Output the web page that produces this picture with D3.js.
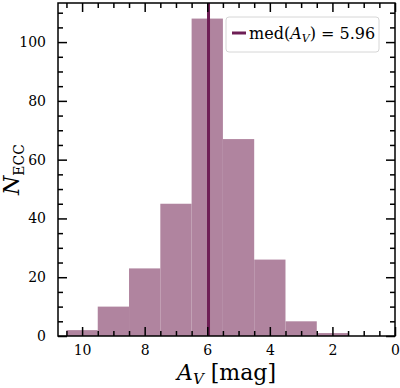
<!DOCTYPE html>
<html>
<head>
  <meta charset="utf-8">
  <script src="https://d3js.org/d3.v7.min.js"></script>
  <style>
    body { margin: 0; background: #fff; }
    text { font-family: "DejaVu Serif", serif; fill: #000; }
  </style>
</head>
<body>
<script>
  // histogram bins (A_V edges, mag) and counts
  var binLo = [9.5, 8.5, 7.5, 6.5, 5.5, 4.5, 3.5, 2.5, 1.5];
  var binHi = [10.5, 9.5, 8.5, 7.5, 6.5, 5.5, 4.5, 3.5, 2.5];
  var counts = [2, 10, 23, 45, 108, 67, 26, 5, 1];
  var medianAv = 5.96;
  var xTicks = [10, 8, 6, 4, 2, 0];
  var yTicks = [0, 20, 40, 60, 80, 100];

  var width = 400, height = 388;
  var margin = {left: 58, right: 5, top: 3, bottom: 52};

  var svg = d3.select("body").append("svg")
      .attr("width", width)
      .attr("height", height);

  var x = d3.scaleLinear().domain([10.77, 0]).range([margin.left, width - margin.right]);
  var y = d3.scaleLinear().domain([0, 113.3]).range([height - margin.bottom, margin.top]);

  var bins = counts.map(function(c, i) { return {lo: binLo[i], hi: binHi[i], n: c}; });

  svg.selectAll(".bar")
    .data(bins)
    .enter().append("rect")
    .attr("class", "bar")
    .attr("x", function(d) { return x(d.hi); })
    .attr("width", function(d) { return x(d.lo) - x(d.hi); })
    .attr("y", function(d) { return y(d.n); })
    .attr("height", function(d) { return y(0) - y(d.n); })
    .style("fill", "#b0849f");

  // median line
  svg.append("line")
    .attr("x1", x(medianAv)).attr("x2", x(medianAv))
    .attr("y1", y.range()[0]).attr("y2", y.range()[1])
    .style("stroke", "#6e1e55")
    .style("stroke-width", 3);

  // ticks on all four sides, pointing in
  var xMinor = d3.range(0, 10.8, 0.5).filter(function(v) { return v % 2 !== 0; });
  var yMinor = d3.range(0, 113, 5).filter(function(v) { return v % 20 !== 0; });

  function addAxis(axis, tr, cls) {
    return svg.append("g").attr("class", cls).attr("transform", tr).call(axis);
  }

  addAxis(d3.axisBottom(x).tickValues(xTicks).tickSize(-9).tickPadding(9).tickFormat(d3.format("d")),
    "translate(0," + y(0) + ")", "xb");
  addAxis(d3.axisBottom(x).tickValues(xMinor).tickSize(-5).tickFormat(""), "translate(0," + y(0) + ")", "xbm");
  addAxis(d3.axisTop(x).tickValues(xTicks).tickSize(-9).tickFormat(""), "translate(0," + margin.top + ")", "xt");
  addAxis(d3.axisTop(x).tickValues(xMinor).tickSize(-5).tickFormat(""), "translate(0," + margin.top + ")", "xtm");
  addAxis(d3.axisLeft(y).tickValues(yTicks).tickSize(-9).tickPadding(12).tickFormat(d3.format("d")),
    "translate(" + margin.left + ",0)", "yl");
  addAxis(d3.axisLeft(y).tickValues(yMinor).tickSize(-5).tickFormat(""), "translate(" + margin.left + ",0)", "ylm");
  addAxis(d3.axisRight(y).tickValues(yTicks).tickSize(-9).tickFormat(""), "translate(" + (width - margin.right) + ",0)", "yr");
  addAxis(d3.axisRight(y).tickValues(yMinor).tickSize(-5).tickFormat(""), "translate(" + (width - margin.right) + ",0)", "yrm");

  svg.selectAll(".domain").remove();
  svg.selectAll(".tick line").style("stroke", "#000").style("stroke-width", 1.5);
  svg.selectAll(".tick text").style("font-size", "14px").style("font-family", "'DejaVu Serif', serif");

  // frame
  svg.append("rect")
    .attr("x", margin.left).attr("y", margin.top)
    .attr("width", width - margin.right - margin.left)
    .attr("height", y(0) - margin.top)
    .style("fill", "none").style("stroke", "#000").style("stroke-width", 1.5);

  // axis labels
  var xl = svg.append("text")
    .attr("x", (margin.left + width - margin.right) / 2)
    .attr("y", 380)
    .attr("text-anchor", "middle")
    .style("font-size", "22px");
  xl.append("tspan").style("font-style", "italic").text("A");
  xl.append("tspan").style("font-style", "italic").style("font-size", "15px").attr("dy", 4).text("V");
  xl.append("tspan").attr("dy", -4).text(" [mag]");

  var yl = svg.append("text")
    .attr("transform", "translate(19," + (y(0) + margin.top) / 2 + ") rotate(-90)")
    .attr("text-anchor", "middle")
    .style("font-size", "22px");
  yl.append("tspan").style("font-style", "italic").text("N");
  yl.append("tspan").style("font-size", "14px").attr("dy", 5).text("ECC");

  // legend
  var lg = svg.append("g").attr("transform", "translate(226,17)");
  lg.append("rect")
    .attr("width", 153).attr("height", 35).attr("rx", 3)
    .style("fill", "#fff").style("fill-opacity", 0.85)
    .style("stroke", "#d6d6d6").style("stroke-width", 1);
  lg.append("line")
    .attr("x1", 6).attr("x2", 20).attr("y1", 16).attr("y2", 16)
    .style("stroke", "#6e1e55").style("stroke-width", 3);
  var lt = lg.append("text").attr("x", 23).attr("y", 22).style("font-size", "16px");
  lt.append("tspan").text("med(");
  lt.append("tspan").style("font-style", "italic").text("A");
  lt.append("tspan").style("font-style", "italic").style("font-size", "11px").attr("dy", 3).text("V");
  lt.append("tspan").attr("dy", -3).text(") = 5.96");
</script>
</body>
</html>
